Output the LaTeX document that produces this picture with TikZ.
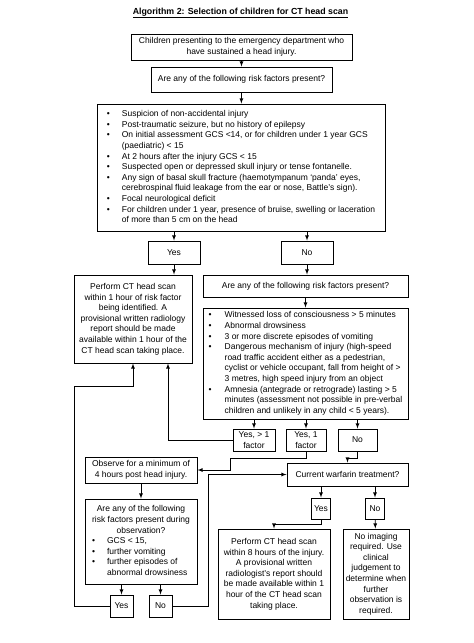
\documentclass[tikz,border=0pt]{standalone}
\usepackage{fontspec}
\setmainfont{Liberation Sans}
\usetikzlibrary{arrows}
\tikzset{
	box/.style={draw, line width=1pt, inner sep=1pt, align=center, font=\fontsize{8.5}{10.6}\selectfont},
	flow/.style={->, >=latex, line width=0.75pt}
}
\newcommand{\bul}{\textbullet}

\begin{document}
\begin{tikzpicture}[x=1pt, y=-1pt]
	\useasboundingbox (0,0) rectangle (474,643);
	\node[font=\bfseries\fontsize{8.8}{10}\selectfont] (title) at (240.5,13) {\underline{Algorithm 2: Selection of children for CT head scan}};

	\draw (241.5,47) node[box, minimum width=221pt, minimum height=26pt] (start) {Children presenting to the emergency department who\\ have sustained a head injury.}
		(241.5,79.5) node[box, minimum width=181pt, minimum height=25pt] (riskq) {Are any of the following risk factors present?}
		(241,167.5) node[box, minimum width=288pt, minimum height=127pt] (risklist) {\begin{tabular}{@{}p{15pt}@{}l@{}}
			\bul & Suspicion of non-accidental injury\\
			\bul & Post-traumatic seizure, but no history of epilepsy\\
			\bul & On initial assessment GCS <14, or for children under 1 year GCS\\
			 & (paediatric) < 15\\
			\bul & At 2 hours after the injury GCS < 15\\
			\bul & Suspected open or depressed skull injury or tense fontanelle.\\
			\bul & Any sign of basal skull fracture (haemotympanum ‘panda’ eyes,\\
			 & cerebrospinal fluid leakage from the ear or nose, Battle’s sign).\\
			\bul & Focal neurological deficit\\
			\bul & For children under 1 year, presence of bruise, swelling or laceration\\
			 & of more than 5 cm on the head
		\end{tabular}}
		(174,252.5) node[box, minimum width=52pt, minimum height=23pt] (yesa) {Yes}
		(307,252.5) node[box, minimum width=52pt, minimum height=23pt] (noa) {No}
		(133,319) node[box, minimum width=118pt, minimum height=88pt] (ctnow) {Perform CT head scan\\ within 1 hour of risk factor\\ being identified. A\\ provisional written radiology\\ report should be made\\ available within 1 hour of the\\ CT head scan taking place.}
		(305.5,286) node[box, minimum width=205pt, minimum height=22pt] (riskqb) {Are any of the following risk factors present?}
		(305.5,363.5) node[box, minimum width=205pt, minimum height=111pt] (risklistb) {\begin{tabular}{@{}p{16pt}@{}l@{}}
			\bul & Witnessed loss of consciousness > 5 minutes\\
			\bul & Abnormal drowsiness\\
			\bul & 3 or more discrete episodes of vomiting\\
			\bul & Dangerous mechanism of injury (high-speed\\
			 & road traffic accident either as a pedestrian,\\
			 & cyclist or vehicle occupant, fall from height of >\\
			 & 3 metres, high speed injury from an object\\
			\bul & Amnesia (antegrade or retrograde) lasting > 5\\
			 & minutes (assessment not possible in pre-verbal\\
			 & children and unlikely in any child < 5 years).
		\end{tabular}}
		(254,440) node[box, minimum width=42pt, minimum height=22pt] (yesmany) {Yes, > 1\\ factor}
		(306,440) node[box, minimum width=40pt, minimum height=22pt] (yesone) {Yes, 1\\ factor}
		(357.5,440) node[box, minimum width=39pt, minimum height=22pt] (nob) {No}
		(141,470) node[box, minimum width=112pt, minimum height=26pt] (observe) {Observe for a minimum of\\ 4 hours post head injury.}
		(347.5,474.5) node[box, minimum width=121pt, minimum height=23pt] (warfarin) {Current warfarin treatment?}
		(141,541.5) node[box, minimum width=112pt, minimum height=85pt] (obslist) {\begin{tabular}{@{}p{15pt}@{}l@{}}
			\multicolumn{2}{@{}c@{}}{Are any of the following}\\
			\multicolumn{2}{@{}c@{}}{risk factors present during}\\
			\multicolumn{2}{@{}c@{}}{observation?}\\
			\bul & GCS < 15,\\
			\bul & further vomiting\\
			\bul & further episodes of\\
			 & abnormal drowsiness
		\end{tabular}}
		(121.5,606) node[box, minimum width=23pt, minimum height=22pt] (yesc) {Yes}
		(160.5,606) node[box, minimum width=23pt, minimum height=22pt] (noc) {No}
		(321,508.5) node[box, minimum width=19pt, minimum height=21pt] (yesd) {Yes}
		(375,508.5) node[box, minimum width=19pt, minimum height=21pt] (nod) {No}
		(274,574) node[box, minimum width=112pt, minimum height=90pt] (ctlater) {Perform CT head scan\\ within 8 hours of the injury.\\ A provisional written\\ radiologist's report should\\ be made available within 1\\ hour of the CT head scan\\ taking place.}
		(376,574) node[box, minimum width=66pt, minimum height=90pt] (noimage) {No imaging\\ required. Use\\ clinical\\ judgement to\\ determine when\\ further\\ observation is\\ required.};

	\draw[flow] (start) -- (riskq);
	\draw[flow] (riskq) -- (risklist);
	\draw[flow] (risklist.south -| yesa) -- (yesa);
	\draw[flow] (risklist.south -| noa) -- (noa);
	\draw[flow] (yesa) -- (yesa |- ctnow.north);
	\draw[flow] (noa) -- (noa |- riskqb.north);
	\draw[flow] (riskqb) -- (risklistb);
	\draw[flow] (risklistb.south -| yesmany) -- (yesmany);
	\draw[flow] (risklistb.south -| yesone) -- (yesone);
	\draw[flow] (risklistb.south -| nob) -- (nob);
	\draw[flow] (yesmany.west) -| ([xshift=35pt]ctnow.south);
	\draw[flow] (yesone.south) -- ++(0,7) -- ++(-76,0) |- (observe.east);
	\draw[flow] (nob.south) -- ++(0,7) -| (warfarin.north);
	\draw[flow] (observe) -- (obslist);
	\draw[flow] (obslist.south -| yesc) -- (yesc);
	\draw[flow] (obslist.south -| noc) -- (noc);
	\draw[flow] (yesc.west) -| (74,386) -| (ctnow.south);
	\draw[flow] (noc.east) -- (208,606) |- (warfarin.west);
	\draw[flow] (warfarin.south -| yesd) -- (yesd);
	\draw[flow] (warfarin.south -| nod) -- (nod);
	\draw[flow] (yesd.south) -- ++(0,5) -| (ctlater.north);
	\draw[flow] (nod) -- (noimage);
\end{tikzpicture}
\end{document}
